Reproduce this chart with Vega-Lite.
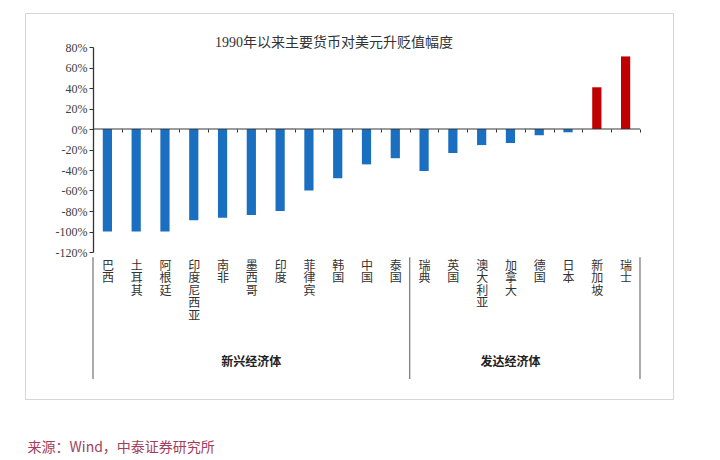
{
  "$schema": "https://vega.github.io/schema/vega-lite/v6.json",
  "width": 648,
  "height": 386,
  "autosize": {"type": "none"},
  "padding": {"left": 25, "top": 13, "right": 47, "bottom": 61},
  "background": "white",
  "title": {
    "text": "1990年以来主要货币对美元升贬值幅度",
    "font": "Liberation Serif, Noto Sans CJK SC",
    "fontSize": 14,
    "fontWeight": "normal",
    "color": "#333333",
    "anchor": "middle",
    "frame": "group",
    "offset": -37,
    "dx": -15
  },
  "datasets": {
    "fx": [
      {"c": "巴西", "v": -100, "g": "新兴经济体"},
      {"c": "土耳其", "v": -100, "g": "新兴经济体"},
      {"c": "阿根廷", "v": -100, "g": "新兴经济体"},
      {"c": "印度尼西亚", "v": -89, "g": "新兴经济体"},
      {"c": "南非", "v": -86.5, "g": "新兴经济体"},
      {"c": "墨西哥", "v": -84, "g": "新兴经济体"},
      {"c": "印度", "v": -80, "g": "新兴经济体"},
      {"c": "菲律宾", "v": -60, "g": "新兴经济体"},
      {"c": "韩国", "v": -48, "g": "新兴经济体"},
      {"c": "中国", "v": -34.5, "g": "新兴经济体"},
      {"c": "泰国", "v": -28.5, "g": "新兴经济体"},
      {"c": "瑞典", "v": -41, "g": "发达经济体"},
      {"c": "英国", "v": -23.3, "g": "发达经济体"},
      {"c": "澳大利亚", "v": -15.7, "g": "发达经济体"},
      {"c": "加拿大", "v": -13.7, "g": "发达经济体"},
      {"c": "德国", "v": -6.2, "g": "发达经济体"},
      {"c": "日本", "v": -3.2, "g": "发达经济体"},
      {"c": "新加坡", "v": 40.7, "g": "发达经济体"},
      {"c": "瑞士", "v": 70.8, "g": "发达经济体"}
    ],
    "groups": [
      {"g": "新兴经济体", "at": "墨西哥"},
      {"g": "发达经济体", "at": "加拿大"}
    ]
  },
  "data": {"name": "fx"},
  "layer": [
    {
      "mark": {"type": "bar", "width": {"band": 0.32}},
      "encoding": {
        "x": {
          "field": "c",
          "type": "nominal",
          "sort": null,
          "scale": {
            "domain": ["巴西","土耳其","阿根廷","印度尼西亚","南非","墨西哥","印度","菲律宾","韩国","中国","泰国","瑞典","英国","澳大利亚","加拿大","德国","日本","新加坡","瑞士"],
            "range": [68, 615],
            "paddingInner": 0,
            "paddingOuter": 0
          },
          "axis": {
            "orient": "bottom",
            "offset": -270,
            "domain": false,
            "ticks": true,
            "tickBand": "extent",
            "tickSize": 3,
            "tickColor": "#333333",
            "tickWidth": 1,
            "labelExpr": "split(datum.label, '')",
            "labelAngle": 0,
            "labelBaseline": "top",
            "labelPadding": 128,
            "labelLineHeight": 12.5,
            "labelFont": "Noto Sans CJK SC",
            "labelFontSize": 12,
            "labelColor": "#333333",
            "labelOverlap": false,
            "labelLimit": 0,
            "title": "来源：Wind，中泰证券研究所",
            "titleX": 2,
            "titleY": 318,
            "titleAlign": "left",
            "titleBaseline": "middle",
            "titleAngle": 0,
            "titleFont": "Noto Sans CJK SC",
            "titleFontSize": 14,
            "titleFontWeight": "normal",
            "titleColor": "#a23e5c"
          }
        },
        "y": {
          "field": "v",
          "type": "quantitative",
          "scale": {"domain": [-120, 80], "range": [239, 34], "nice": false, "zero": false},
          "axis": {
            "offset": -68,
            "values": [-120, -100, -80, -60, -40, -20, 0, 20, 40, 60, 80],
            "labelExpr": "datum.value + '%'",
            "labelOverlap": false,
            "grid": false,
            "domainColor": "#333333",
            "domainWidth": 1.3,
            "tickColor": "#333333",
            "tickSize": 4,
            "labelFont": "Liberation Serif",
            "labelFontSize": 12,
            "labelColor": "#404040",
            "labelPadding": 2,
            "title": null
          }
        },
        "color": {
          "condition": {"test": "datum.v > 0", "value": "#c00000"},
          "value": "#1a6fc0"
        }
      }
    },
    {
      "mark": {"type": "tick", "size": 29, "thickness": 1.4, "color": "#333333"},
      "encoding": {
        "x": {"field": "c", "type": "nominal", "sort": null},
        "y": {"datum": 0, "type": "quantitative", "axis": {"labelOverlap": false, "values": [-120, -100, -80, -60, -40, -20, 0, 20, 40, 60, 80], "title": null}}
      }
    },
    {
      "transform": [{"filter": "datum.c === '巴西' || datum.c === '瑞典'"}],
      "mark": {"type": "rule", "color": "#7f7f7f", "strokeWidth": 1.3},
      "encoding": {
        "x": {"field": "c", "type": "nominal", "sort": null, "bandPosition": 0},
        "y": {"datum": -125, "type": "quantitative", "axis": {"labelOverlap": false, "values": [-120, -100, -80, -60, -40, -20, 0, 20, 40, 60, 80], "title": null}},
        "y2": {"datum": -244}
      }
    },
    {
      "transform": [{"filter": "datum.c === '瑞士'"}],
      "mark": {"type": "rule", "color": "#7f7f7f", "strokeWidth": 1.3},
      "encoding": {
        "x": {"field": "c", "type": "nominal", "sort": null, "bandPosition": 1},
        "y": {"datum": -125, "type": "quantitative", "axis": {"labelOverlap": false, "values": [-120, -100, -80, -60, -40, -20, 0, 20, 40, 60, 80], "title": null}},
        "y2": {"datum": -244}
      }
    },
    {
      "data": {"name": "groups"},
      "mark": {"type": "text", "font": "Noto Sans CJK SC", "fontSize": 12, "fontWeight": "bold", "color": "#222222", "align": "center", "baseline": "middle"},
      "encoding": {
        "x": {"field": "at", "type": "nominal", "sort": null},
        "y": {"datum": -227, "type": "quantitative", "axis": {"labelOverlap": false, "values": [-120, -100, -80, -60, -40, -20, 0, 20, 40, 60, 80], "title": null}},
        "text": {"field": "g"}
      }
    }
  ],
  "config": {
    "view": {"stroke": "#d6d6d6", "strokeWidth": 1},
    "axisY": {"labelOverlap": false}
  }
}
